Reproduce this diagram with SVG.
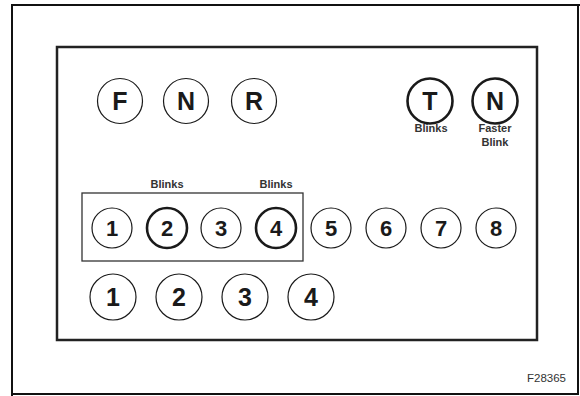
<svg xmlns="http://www.w3.org/2000/svg" width="580" height="396" viewBox="0 0 580 396">
<style>
.c{fill:#fff;stroke:#1a1a1a;stroke-width:1.2}
.t{fill:#fff;stroke:#1a1a1a;stroke-width:2.6}
.L{font-family:"Liberation Sans",Arial,sans-serif;font-weight:bold;fill:#1a1a1a;text-anchor:middle}
.s{font-family:"Liberation Sans",Arial,sans-serif;font-weight:bold;font-size:11px;fill:#333;text-anchor:middle}
</style>
<rect x="0" y="0" width="580" height="396" fill="#fff"/>
<path d="M12,396 V5 H580 M578,5 V394 H12" fill="none" stroke="#111" stroke-width="2"/>
<rect x="57" y="47" width="480" height="293" fill="none" stroke="#222" stroke-width="2.5"/>
<rect x="82" y="193" width="221" height="68" fill="none" stroke="#333" stroke-width="1.3"/>
<g id="nF"><circle class="c" cx="120" cy="101" r="22.5"/><text class="L" x="120" y="110" font-size="25">F</text></g>
<g id="nN1"><circle class="c" cx="186" cy="101" r="22.5"/><text class="L" x="186" y="110" font-size="25">N</text></g>
<g id="nR"><circle class="c" cx="254" cy="101" r="22.5"/><text class="L" x="254" y="110" font-size="25">R</text></g>
<g id="nT"><circle class="t" cx="430" cy="101" r="22.5"/><text class="L" x="430" y="110" font-size="25">T</text><text class="s" x="431" y="132">Blinks</text></g>
<g id="nN2"><circle class="t" cx="495" cy="101" r="22.5"/><text class="L" x="495" y="110" font-size="25">N</text><text class="s" x="495" y="132">Faster</text><text class="s" x="495" y="146">Blink</text></g>
<g id="a1"><circle class="c" cx="112" cy="228" r="20"/><text class="L" x="112" y="236" font-size="22">1</text></g>
<g id="a2"><circle class="t" cx="167" cy="228" r="20"/><text class="L" x="167" y="236" font-size="22">2</text><text class="s" x="167" y="188">Blinks</text></g>
<g id="a3"><circle class="c" cx="221" cy="228" r="20"/><text class="L" x="221" y="236" font-size="22">3</text></g>
<g id="a4"><circle class="t" cx="276" cy="228" r="20"/><text class="L" x="276" y="236" font-size="22">4</text><text class="s" x="276" y="188">Blinks</text></g>
<g id="a5"><circle class="c" cx="331" cy="228" r="20"/><text class="L" x="331" y="236" font-size="22">5</text></g>
<g id="a6"><circle class="c" cx="386" cy="228" r="20"/><text class="L" x="386" y="236" font-size="22">6</text></g>
<g id="a7"><circle class="c" cx="441" cy="228" r="20"/><text class="L" x="441" y="236" font-size="22">7</text></g>
<g id="a8"><circle class="c" cx="496" cy="228" r="20"/><text class="L" x="496" y="236" font-size="22">8</text></g>
<g id="b1"><circle class="c" cx="113" cy="297" r="23"/><text class="L" x="113" y="306" font-size="25">1</text></g>
<g id="b2"><circle class="c" cx="179" cy="297" r="23"/><text class="L" x="179" y="306" font-size="25">2</text></g>
<g id="b3"><circle class="c" cx="245" cy="297" r="23"/><text class="L" x="245" y="306" font-size="25">3</text></g>
<g id="b4"><circle class="c" cx="311" cy="297" r="23"/><text class="L" x="311" y="306" font-size="25">4</text></g>
<g id="connectors"></g>
<text x="566" y="382" font-family="'Liberation Sans',Arial,sans-serif" font-size="11.5" fill="#333" text-anchor="end">F28365</text>
</svg>
